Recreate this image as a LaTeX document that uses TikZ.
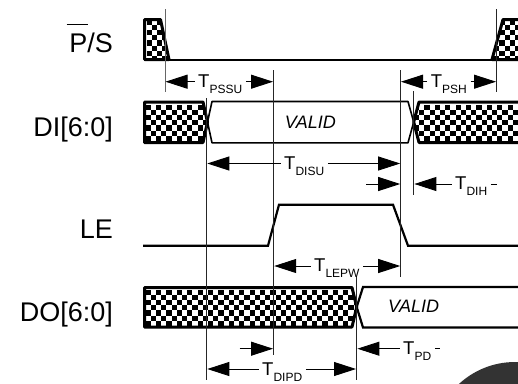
\documentclass[tikz,border=0pt]{standalone}
\usepackage{fontspec}
\setmainfont{Liberation Sans}
\usetikzlibrary{arrows.meta,calc}
\definecolor{blob}{HTML}{333333}
\newcommand{\TT}[1]{\fontsize{18.5}{18.5}\selectfont T\raisebox{-6pt}{\fontsize{12}{12}\selectfont #1}}
% \chk{clip path}{x0}{y0}{nx}{ny}
\newcommand{\chk}[5]{%
  \begin{scope}
    \clip #1;
    \foreach \ci in {0,...,#4}{\foreach \cj in {0,...,#5}{%
      \pgfmathtruncatemacro{\cp}{mod(\ci+\cj,2)}%
      \ifnum\cp=0
        \fill[black] ({#2+\ci*5.2},{#3+\cj*5.2}) rectangle ++(5.2,5.2);
      \fi}}
  \end{scope}%
  \draw[chkline] #1;}
\tikzset{
  sig/.style={line width=2.2pt,line join=miter},
  chkline/.style={line width=3pt,line join=round},
  guide/.style={line width=0.8pt,black!85},
  dim/.style={line width=0.9pt,-{Triangle[length=22pt,width=14pt]}},
  dimtail/.style={line width=0.9pt},
  lab/.style={anchor=base east,inner sep=0pt,font=\fontsize{27}{27}\selectfont},
  tlab/.style={anchor=base west,inner xsep=3.5pt,inner ysep=0pt},
  val/.style={anchor=base west,inner sep=0pt,font=\fontsize{18}{18}\selectfont\itshape}
}
\begin{document}
\begin{tikzpicture}[x=1pt,y=-1pt]
\clip (0,0) rectangle (518,383);
\fill[white] (0,0) rectangle (518,383);
% decorative blob
\fill[blob] (515,444.5) circle (82.5);
% signal names
\node[lab] (ps) at (113,52.7) {P/S};
\node[lab] (di) at (113,136) {DI[6:0]};
\node[lab] (le) at (113,238) {LE};
\node[lab] (do) at (113,321.5) {DO[6:0]};
\coordinate (ovA) at (66.7,24);
\coordinate (ovB) at (87.7,24);
\draw[line width=0.8pt] (ovA) -- (ovB);
% P/S
\chk{(144.5,19.5)--(160.5,19.5)--(169,59.5)--(144.5,59.5)--cycle}{146.5}{19.5}{6}{8}
\chk{(492,59.5)--(503,19.5)--(521,19.5)--(521,59.5)--cycle}{489}{19.5}{7}{8}
\coordinate (psA) at (144,60);
\coordinate (psB) at (492,60);
\draw[sig] (psA) -- (psB);
% DI
\chk{(144.5,102)--(203,102)--(207.5,122)--(203,142.5)--(144.5,142.5)--cycle}{145.5}{104.5}{12}{8}
\chk{(521,102)--(419,102)--(413.7,122)--(419,142.5)--(521,142.5)--cycle}{414}{104.5}{21}{8}
\coordinate (vaA) at (207.5,122);
\coordinate (vaB) at (413.7,122);
\draw[line width=1.6pt,line join=round] (vaA) -- (212,101.5) -- (408,101.5) -- (vaB) -- (408,142.8) -- (212,142.8) -- cycle;
\node[val] (v1) at (284.7,128) {VALID};
% LE
\coordinate (leA) at (143,245.7);
\coordinate (leB) at (518,245.7);
\draw[sig] (leA) -- (268,245.7) -- (279,204.7) -- (393,204.7) -- (408,245.7) -- (leB);
% DO
\chk{(144.5,287.5)--(352,287.5)--(356.7,307)--(352,327)--(144.5,327)--cycle}{145.5}{289.5}{41}{8}
\coordinate (voA) at (356.7,307);
\coordinate (voB) at (520,287);
\coordinate (voC) at (520,327.5);
\draw[sig] (voB) -- (363,287) -- (voA) -- (363,327.5) -- (voC);
\node[val] (v2) at (388,312.7) {VALID};
% guides
\coordinate (g1t) at (165,9);      \coordinate (g1b) at (165,91.5);
\coordinate (g2t) at (206.7,98);   \coordinate (g2b) at (206.7,380);
\coordinate (g3t) at (273.5,70);   \coordinate (g3b) at (273.5,355);
\coordinate (g4t) at (400.6,70);   \coordinate (g4b) at (400.6,277);
\coordinate (g5t) at (496.5,9);    \coordinate (g5b) at (496.5,91.5);
\coordinate (g6t) at (413.8,91);   \coordinate (g6b) at (413.8,195);
\coordinate (g7t) at (356.7,277);  \coordinate (g7b) at (356.7,380);
\draw[guide,black!60] (g1t) -- (g1b);
\draw[guide] (g2t) -- (g2b);
\draw[guide] (g3t) -- (g3b);
\draw[guide] (g4t) -- (g4b);
\draw[guide] (g5t) -- (g5b);
\draw[guide] (g6t) -- (g6b);
\draw[guide] (g7t) -- (g7b);
% dimension labels
\node[tlab] (tpssu) at (194.5,87) {\TT{PSSU}};
\node[tlab] (tpsh) at (427.2,87) {\TT{PSH}};
\node[tlab] (tdisu) at (280.5,169) {\TT{DISU}};
\node[tlab] (tdih) at (451.5,189.5) {\TT{DIH}};
\node[tlab] (tlepw) at (310.5,271.7) {\TT{LEPW}};
\node[tlab] (tpd) at (399.5,354) {\TT{PD}};
\node[tlab] (tdipd) at (258.5,375) {\TT{DIPD}};
% dimension tips
\coordinate (a1l) at (165.5,81.7);  \coordinate (a1r) at (273,81.7);
\coordinate (a2l) at (401,81.7);    \coordinate (a2r) at (496,81.7);
\coordinate (a3l) at (207.3,163.5); \coordinate (a3r) at (400.2,163.5);
\coordinate (a4s) at (366,184);     \coordinate (a4r) at (400.2,184);
\coordinate (a5l) at (414.4,184);   \coordinate (a5d) at (497,184);
\coordinate (a6l) at (274.2,266);   \coordinate (a6r) at (400.2,266);
\coordinate (a7s) at (239.5,348.7); \coordinate (a7r) at (273,348.7);
\coordinate (a8l) at (357.4,348.7); \coordinate (a8d) at (440,348.7);
\coordinate (a9l) at (207.3,369);   \coordinate (a9r) at (356,369);
\draw[dim] (tpssu.west |- a1l) -- (a1l);
\draw[dim] (tpssu.east |- a1r) -- (a1r);
\draw[dim] (tpsh.west |- a2l) -- (a2l);
\draw[dim] (tpsh.east |- a2r) -- (a2r);
\draw[dim] (tdisu.west |- a3l) -- (a3l);
\draw[dim] (tdisu.east |- a3r) -- (a3r);
\draw[dim] (a4s) -- (a4r);
\draw[dim] (tdih.west |- a5l) -- (a5l);
\draw[dimtail] (tdih.east |- a5d) -- (a5d);
\draw[dim] (tlepw.west |- a6l) -- (a6l);
\draw[dim] (tlepw.east |- a6r) -- (a6r);
\draw[dim] (a7s) -- (a7r);
\draw[dim] (tpd.west |- a8l) -- (a8l);
\draw[dimtail] (tpd.east |- a8d) -- (a8d);
\draw[dim] (tdipd.west |- a9l) -- (a9l);
\draw[dim] (tdipd.east |- a9r) -- (a9r);
\end{tikzpicture}
\end{document}
